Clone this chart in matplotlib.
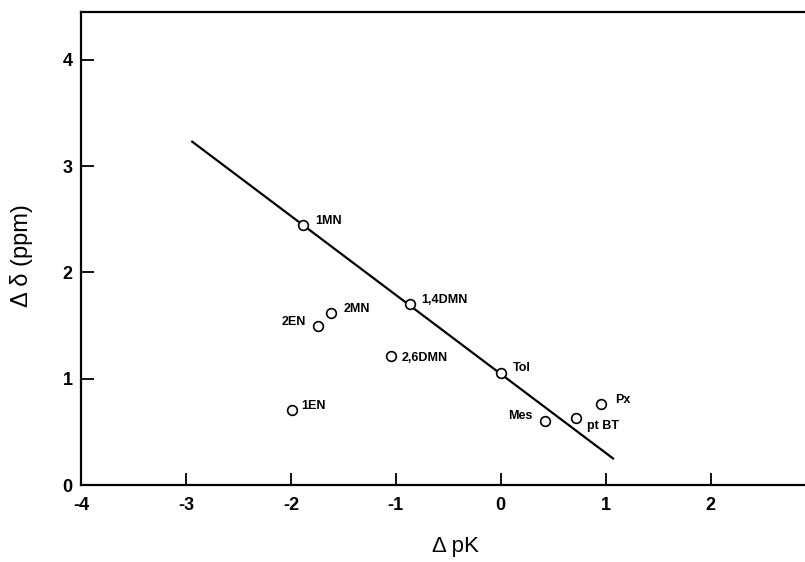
import matplotlib
matplotlib.use("Agg")
import matplotlib.pyplot as plt

plt.rcParams['font.family'] = ['Liberation Sans', 'DejaVu Sans']

# data
names = ["1MN", "1,4DMN", "2MN", "2EN", "2,6DMN", "Tol", "1EN", "Mes", "pt BT", "Px"]
dpk = [-1.88, -0.86, -1.62, -1.74, -1.05, 0.0, -1.99, 0.42, 0.72, 0.96]
ddelta = [2.45, 1.70, 1.62, 1.50, 1.21, 1.05, 0.71, 0.60, 0.63, 0.76]
# label offsets in pixels (dx, dy) and alignment
offs = [(12, 4), (11, 4), (13, 4), (-12, 4), (11, -2), (12, 5), (9, 4), (-12, 5), (11, -8), (14, 4)]
align = ["left", "left", "left", "right", "left", "left", "left", "right", "left", "left"]

# regression line ends
line_x = [-2.94, 1.07]
line_y = [3.23, 0.25]

fig = plt.figure(figsize=(8.05, 5.62), dpi=100)
ax = fig.add_axes([81/805, 77/562, 1 - 81/805, (485 - 12)/562])

ax.plot(line_x, line_y, color='black', lw=1.6, zorder=2)
ax.plot(dpk, ddelta, 'o', ms=7, mfc='white', mec='black', mew=1.2, zorder=3)

for n, x, y, o, a in zip(names, dpk, ddelta, offs, align):
    ax.annotate(n, (x, y), xytext=o, textcoords='offset pixels', ha=a, va='center',
                fontsize=9, fontweight='bold')

ax.set_xlim(-4, 2.9)
ax.set_ylim(0, 4.45)
ax.set_xticks([-4, -3, -2, -1, 0, 1, 2])
ax.set_yticks([0, 1, 2, 3, 4])
ax.set_xticklabels(["-4", "-3", "-2", "-1", "0", "1", "2"])

ax.tick_params(direction='in', length=9, width=1.3, labelsize=13, pad=6)
for lab in ax.get_xticklabels() + ax.get_yticklabels():
    lab.set_fontweight('bold')
ax.tick_params(axis='x', pad=9)

ax.spines['right'].set_visible(False)
for s in ['left', 'bottom', 'top']:
    ax.spines[s].set_linewidth(1.6)

ax.set_xlabel("Δ pK", fontsize=16)
ax.xaxis.set_label_coords(0.5166, -0.108)
ax.set_ylabel("Δ δ (ppm)", fontsize=17)
ax.yaxis.set_label_coords(-0.066, 0.486)

fig.savefig("out.png", dpi=100)
